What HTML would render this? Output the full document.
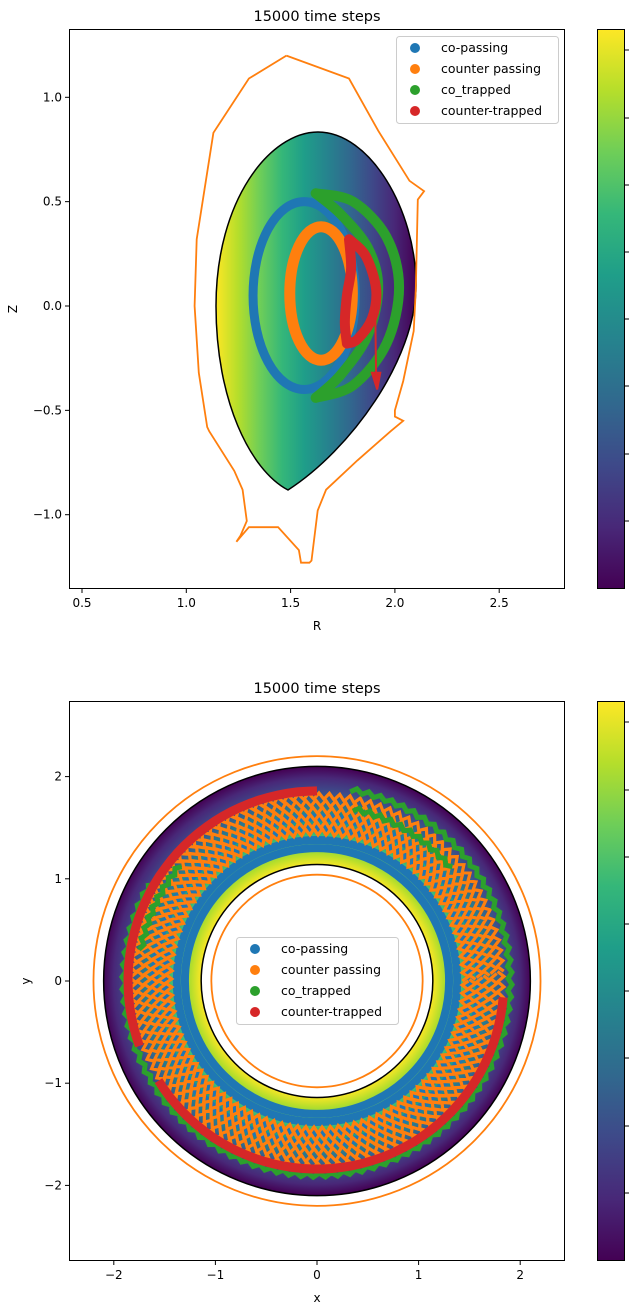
<!DOCTYPE html>
<html><head><meta charset="utf-8"><style>
body{margin:0;background:#fff;font-family:"Liberation Sans","DejaVu Sans",sans-serif}
svg text{font-family:"DejaVu Sans","Liberation Sans",sans-serif}
</style></head><body>
<svg id="s" width="633" height="1311" xmlns="http://www.w3.org/2000/svg">
<defs>
<linearGradient id="vh" gradientUnits="userSpaceOnUse" x1="216" y1="0" x2="416" y2="0">
<stop offset="0" stop-color="#fde725"/><stop offset="0.11" stop-color="#b5de2b"/><stop offset="0.22" stop-color="#6ece58"/><stop offset="0.33" stop-color="#35b779"/><stop offset="0.44" stop-color="#1f9e89"/><stop offset="0.56" stop-color="#26828e"/><stop offset="0.67" stop-color="#31688e"/><stop offset="0.78" stop-color="#3e4989"/><stop offset="0.89" stop-color="#482878"/><stop offset="1" stop-color="#440154"/></linearGradient>
<radialGradient id="vr" gradientUnits="userSpaceOnUse" cx="317" cy="981" r="214">
<stop offset="0.54" stop-color="#fde725"/><stop offset="0.59" stop-color="#b5de2b"/><stop offset="0.64" stop-color="#6ece58"/><stop offset="0.69" stop-color="#35b779"/><stop offset="0.74" stop-color="#1f9e89"/><stop offset="0.79" stop-color="#26828e"/><stop offset="0.84" stop-color="#31688e"/><stop offset="0.89" stop-color="#3e4989"/><stop offset="0.95" stop-color="#482878"/><stop offset="1" stop-color="#440154"/></radialGradient>
<linearGradient id="cb" x1="0" y1="1" x2="0" y2="0">
<stop offset="0" stop-color="#440154"/><stop offset="0.11" stop-color="#482878"/><stop offset="0.22" stop-color="#3e4989"/><stop offset="0.33" stop-color="#31688e"/><stop offset="0.44" stop-color="#26828e"/><stop offset="0.56" stop-color="#1f9e89"/><stop offset="0.67" stop-color="#35b779"/><stop offset="0.78" stop-color="#6ece58"/><stop offset="0.89" stop-color="#b5de2b"/><stop offset="1" stop-color="#fde725"/></linearGradient>
</defs>
<g id="top"></g>
<g id="bot"></g>
</svg>
<script>
// ---- top plot data (R,Z) ----
const rTicks=[0.5,1.0,1.5,2.0,2.5];
const zTicks=[-1.0,-0.5,0.0,0.5,1.0];
const wallR=[1.48,1.78,1.92,2.07,2.14,2.11,2.10,2.09,2.04,2.00,2.00,2.04,1.98,1.82,1.67,1.63,1.60,1.59,1.55,1.54,1.44,1.30,1.24,1.26,1.29,1.27,1.23,1.11,1.10,1.06,1.04,1.05,1.13,1.30,1.48];
const wallZ=[1.20,1.09,0.84,0.60,0.55,0.51,0.08,-0.12,-0.36,-0.50,-0.53,-0.55,-0.60,-0.74,-0.88,-0.98,-1.22,-1.23,-1.23,-1.17,-1.06,-1.06,-1.13,-1.10,-1.03,-0.88,-0.79,-0.60,-0.58,-0.32,0.00,0.32,0.83,1.09,1.20];
// orbit ellipses: center R, Z, half-width, half-height
const coPassing={R:1.565,Z:0.05,a:0.245,b:0.45};
const counterPassing={R:1.646,Z:0.06,a:0.15,b:0.32};
const coTrappedOuterR=[1.62,1.80,1.96,2.02,1.96,1.80,1.62];
const coTrappedOuterZ=[0.54,0.50,0.33,0.09,-0.18,-0.38,-0.44];
const coTrappedInnerR=[1.62,1.74,1.87,1.92,1.87,1.74,1.62];
const coTrappedInnerZ=[0.54,0.44,0.28,0.09,-0.14,-0.33,-0.44];
const ctOuterR=[1.78,1.86,1.91,1.89,1.82,1.77];
const ctOuterZ=[0.32,0.24,0.08,-0.06,-0.16,-0.18];
const ctInnerR=[1.78,1.79,1.77,1.76,1.77];
const ctInnerZ=[0.32,0.18,0.05,-0.08,-0.18];
// ---- bottom plot data ----
const xTicks=[-2,-1,0,1,2];
const yTicks=[-2,-1,0,1,2];
const rOuterBnd=2.10, rInnerBnd=1.14, rWallOut=2.20, rWallIn=1.04;
const blueRings=[1.30,1.38,1.50,1.60];
const orangeRings=[1.46,1.53,1.60,1.67,1.74,1.81];
const greenArcs=[[1.90,80,-210],[1.76,140,170],[1.72,78,40]]; // r, start deg, end deg
const redArcs=[[1.86,90,200],[1.84,212,355]];
const cbTicksTop=[50,118,185,252,319,386,454,521];
const cbTicksBot=[722,790,857,924,991,1058,1126,1193];

const NS='http://www.w3.org/2000/svg';
function mk(p,tag,at,txt){const e=document.createElementNS(NS,tag);for(const k in at)e.setAttribute(k,at[k]);if(txt!=null)e.textContent=txt;p.appendChild(e);return e;}
const T=document.getElementById('top'),B=document.getElementById('bot');
const px=R=>82+(R-0.5)*208.6, py=Z=>306-Z*208.7;
const bx=x=>317+x*101.6, by=y=>981-y*102.2;
function poly(R,Z){return R.map((r,i)=>(i?'L':'M')+px(r).toFixed(1)+','+py(Z[i]).toFixed(1)).join('');}
function smooth(R,Z){let pts=R.map((r,i)=>[px(r),py(Z[i])]);let d='M'+pts[0];for(let i=0;i<pts.length-1;i++){const p0=pts[i-1]||pts[i],p1=pts[i],p2=pts[i+1],p3=pts[i+2]||p2;d+='C'+(p1[0]+(p2[0]-p0[0])/6)+','+(p1[1]+(p2[1]-p0[1])/6)+' '+(p2[0]-(p3[0]-p1[0])/6)+','+(p2[1]-(p3[1]-p1[1])/6)+' '+p2;}return d;}
// TOP
let e;
e=mk(T,'path',{d:'M288,490 C250,470 216,400 216,306 C216,200 270,132 318,132 C370,132 416,210 416,285 C416,360 350,450 288,490 Z',fill:'url(#vh)',stroke:'#000','stroke-width':1.5});

e=mk(T,'path',{d:poly(wallR,wallZ),fill:'none',stroke:'#ff7f0e','stroke-width':1.8});

e=mk(T,'ellipse',{cx:px(coPassing.R),cy:py(coPassing.Z),rx:coPassing.a*208.6,ry:coPassing.b*208.7,fill:'none',stroke:'#1f77b4','stroke-width':9});

e=mk(T,'ellipse',{cx:px(counterPassing.R),cy:py(counterPassing.Z),rx:counterPassing.a*208.6,ry:counterPassing.b*208.7,fill:'none',stroke:'#ff7f0e','stroke-width':11});

e=mk(T,'path',{d:smooth(coTrappedOuterR,coTrappedOuterZ)+smooth(coTrappedInnerR,coTrappedInnerZ).replace('M',' M'),fill:'none',stroke:'#2ca02c','stroke-width':10,'stroke-linecap':'round'});

e=mk(T,'path',{d:smooth(ctOuterR,ctOuterZ)+smooth(ctInnerR,ctInnerZ).replace('M',' M'),fill:'none',stroke:'#d62728','stroke-width':10,'stroke-linecap':'round'});

e=mk(T,'path',{d:`M${px(1.905)},${py(0.03)}L${px(1.91)},${py(-0.34)}M${px(1.89)},${py(-0.32)}L${px(1.93)},${py(-0.32)}L${px(1.915)},${py(-0.40)}Z`,stroke:'#d62728','stroke-width':2,fill:'#d62728'});

e=mk(T,'rect',{x:69.5,y:29.5,width:495,height:559,fill:'none',stroke:'#000','stroke-width':1});

rTicks.forEach(v=>{mk(T,'line',{x1:px(v),x2:px(v),y1:589,y2:593,stroke:'#000'});e=mk(T,'text',{x:px(v),y:607,'font-size':12,'text-anchor':'middle'},v.toFixed(1));});
zTicks.forEach(v=>{mk(T,'line',{x1:65,x2:69,y1:py(v),y2:py(v),stroke:'#000'});e=mk(T,'text',{x:62,y:py(v)+4,'font-size':12,'text-anchor':'end'},v<0?'\u2212'+(-v).toFixed(1):v.toFixed(1));});
e=mk(T,'text',{x:317,y:630,'font-size':12,'text-anchor':'middle'},'R');
e=mk(T,'text',{x:17,y:309,'font-size':12,'text-anchor':'middle',transform:'rotate(-90 17 309)'},'Z');
e=mk(T,'text',{x:317,y:21,'font-size':14.5,'text-anchor':'middle'},'15000 time steps');
// BOTTOM
e=mk(B,'path',{d:`M${bx(-rOuterBnd)},981a${rOuterBnd*101.6},${rOuterBnd*102.2} 0 1 0 ${rOuterBnd*203.2},0a${rOuterBnd*101.6},${rOuterBnd*102.2} 0 1 0 ${-rOuterBnd*203.2},0ZM${bx(-rInnerBnd)},981a${rInnerBnd*101.6},${rInnerBnd*102.2} 0 1 0 ${rInnerBnd*203.2},0a${rInnerBnd*101.6},${rInnerBnd*102.2} 0 1 0 ${-rInnerBnd*203.2},0Z`,fill:'url(#vr)','fill-rule':'evenodd'});

function ring(r,col,w,name){const el=mk(B,'ellipse',{cx:317,cy:981,rx:r*101.6,ry:r*102.2,fill:'none',stroke:col,'stroke-width':w});}
function zig(r,amp,step,a0,a1,ph){let d='';const N=Math.max(2,Math.round(Math.abs(a1-a0)/step));for(let i=0;i<=N;i++){const a=(a0+(a1-a0)*i/N)*Math.PI/180;const rr=r+amp*(((i+ph)%2)?1:-1);d+=(i?'L':'M')+bx(rr*Math.cos(a)).toFixed(1)+','+by(rr*Math.sin(a)).toFixed(1);}return d;}
blueRings.forEach(r=>ring(r,'#1f77b4',8,'co-passing-ring'));
orangeRings.forEach((r,k)=>{e=mk(B,'path',{d:zig(r,0.03,1.6,k*0.6,360+k*0.6,k),fill:'none',stroke:'#ff7f0e','stroke-width':3.2});});
greenArcs.forEach(a=>{e=mk(B,'path',{d:zig(a[0],0.02,1.8,a[1],a[2],0),fill:'none',stroke:'#2ca02c','stroke-width':5});});
redArcs.forEach(a=>{e=mk(B,'path',{d:zig(a[0],0,3,a[1],a[2],0),fill:'none',stroke:'#d62728','stroke-width':9});});
ring(rOuterBnd,'#000',1.5,'outer-boundary');ring(rInnerBnd,'#000',1.5,'inner-boundary');
ring(rWallOut,'#ff7f0e',1.8,'outer-wall');ring(rWallIn,'#ff7f0e',1.8,'inner-wall');
e=mk(B,'rect',{x:69.5,y:701.5,width:495,height:559,fill:'none',stroke:'#000','stroke-width':1});

xTicks.forEach(v=>{mk(B,'line',{x1:bx(v),x2:bx(v),y1:1261,y2:1265,stroke:'#000'});e=mk(B,'text',{x:bx(v),y:1279,'font-size':12,'text-anchor':'middle'},v<0?'\u2212'+(-v):''+v);});
yTicks.forEach(v=>{mk(B,'line',{x1:65,x2:69,y1:by(v),y2:by(v),stroke:'#000'});e=mk(B,'text',{x:62,y:by(v)+4,'font-size':12,'text-anchor':'end'},v<0?'\u2212'+(-v):''+v);});
e=mk(B,'text',{x:317,y:1302,'font-size':12,'text-anchor':'middle'},'x');
e=mk(B,'text',{x:30,y:981,'font-size':12,'text-anchor':'middle',transform:'rotate(-90 30 981)'},'y');
e=mk(B,'text',{x:317,y:693,'font-size':14.5,'text-anchor':'middle'},'15000 time steps');
// colorbars
[[T,29,cbTicksTop],[B,701,cbTicksBot]].forEach(([g,y0,ticks])=>{e=mk(g,'rect',{x:597.5,y:y0+0.5,width:27,height:559,fill:'url(#cb)',stroke:'#000'});ticks.forEach(t=>mk(g,'line',{x1:625,x2:629,y1:t,y2:t,stroke:'#000'}));});
// legends
const labels=['co-passing','counter passing','co_trapped','counter-trapped'],cols=['#1f77b4','#ff7f0e','#2ca02c','#d62728'];
[[T,396,36],[B,236,937]].forEach(([g,x0,y0])=>{const lg=mk(g,'g',{});
mk(lg,'rect',{x:x0+0.5,y:y0+0.5,width:162,height:87,rx:3,fill:'#fff','fill-opacity':0.85,stroke:'#ccc'});
labels.forEach((l,i)=>{mk(lg,'circle',{cx:x0+19,cy:y0+12+i*21,r:5,fill:cols[i]});const t=mk(lg,'text',{x:x0+45,y:y0+16+i*21,'font-size':12.5},l);});});
</script>
</body></html>
